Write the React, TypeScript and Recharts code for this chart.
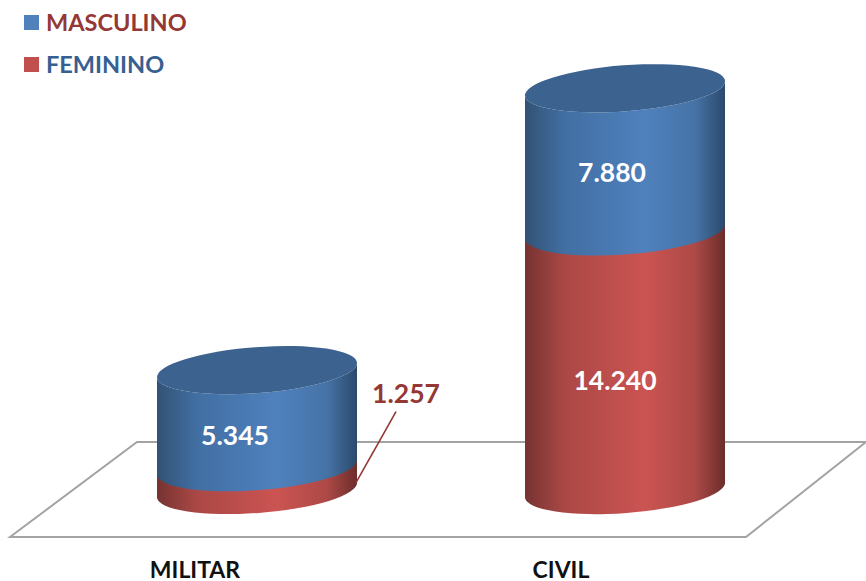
import { BarChart, Bar, XAxis, YAxis, Legend, LabelList, Customized } from 'recharts';

const categories = ['MILITAR', 'CIVIL'];
const masculino = [5345, 7880];
const feminino = [1257, 14240];

const chartData = categories.map((name, i) => ({ name, masculino: masculino[i], feminino: feminino[i] }));

const FONT = 'Lato, "Open Sans", sans-serif';
const TILT = 7.5;
const RY = 23;

// label offsets from the middle of each segment
const MASC_OFFSETS = [{ dx: -22, dy: 16 }, { dx: -13, dy: 12 }];
const FEM_OFFSETS = [{ dx: 149, dy: -86 }, { dx: -10, dy: 19 }];

function formatValue(v: number): string {
  return String(v).replace(/\B(?=(\d{3})+$)/g, '.');
}

function Cylinder(props: any) {
  const { x, y, width, height, gradient, cap } = props;
  const rx = Math.hypot(width / 2, TILT);
  const rot = (-Math.atan2(TILT, width / 2) * 180) / Math.PI;
  const arc = (sweep: number, ex: number, ey: number) => `A${rx} ${RY} ${rot} 0 ${sweep} ${ex} ${ey}`;
  const left = x;
  const right = x + width;
  const bottom = y + height;
  const body = [
    `M${left} ${y + TILT}`,
    arc(cap ? 0 : 1, right, y - TILT),
    `L${right} ${bottom - TILT}`,
    arc(1, left, bottom + TILT),
    'Z',
  ].join(' ');
  return (
    <g>
      <path d={body} fill={`url(#${gradient})`} />
      {cap && (
        <path
          d={`M${left} ${y + TILT} ${arc(1, right, y - TILT)} ${arc(1, left, y + TILT)} Z`}
          fill="#3c628f"
        />
      )}
    </g>
  );
}

function ValueLabel(props: any) {
  const { x, y, width, height, value, index, offsets, leader } = props;
  const { dx, dy } = offsets[index];
  const cx = x + width / 2 + dx;
  const cy = y + height / 2 + dy;
  const outside = leader && index === 0;
  return (
    <g>
      {outside && (
        <line x1={x + width - 1} y1={y + height / 2 + 4} x2={x + width + 39} y2={cy + 19} stroke="#953735" strokeWidth={1.6} />
      )}
      <text
        x={cx}
        y={cy}
        textAnchor="middle"
        dominantBaseline="central"
        fontFamily={FONT}
        fontWeight={700}
        fontSize={26.5}
        fill={outside ? '#953735' : '#ffffff'}
      >
        {formatValue(value)}
      </text>
    </g>
  );
}

function CategoryTick(props: any) {
  const { x, y, payload, index } = props;
  const shift = index === 0 ? -62 : -64;
  return (
    <text x={x + shift} y={y + 80} textAnchor="middle" fontFamily={FONT} fontWeight={700} fontSize={23} fill="#111111">
      {payload.value}
    </text>
  );
}

function Floor() {
  return <polygon points="10,537 137,442 866,442 746,537" fill="#ffffff" stroke="#a3a3a3" strokeWidth={2} />;
}

function LegendBox() {
  const rows = [
    { label: 'MASCULINO', box: '#4f81bd', text: '#953735' },
    { label: 'FEMININO', box: '#c0504d', text: '#376092' },
  ];
  return (
    <div style={{ fontFamily: FONT, fontWeight: 700, fontSize: 23.5 }}>
      {rows.map((r) => (
        <div key={r.label} style={{ display: 'flex', alignItems: 'center', height: 42, color: r.text }}>
          <span style={{ width: 15, height: 15, background: r.box, marginLeft: 24, marginRight: 7 }} />
          {r.label}
        </div>
      ))}
    </div>
  );
}

export default function App() {
  return (
    <div style={{ width: 866, height: 581, background: '#fff' }}>
      <style>{'body{margin:0}'}</style>
      <BarChart
        width={866}
        height={581}
        data={chartData}
        margin={{ top: 36, right: 57, bottom: 0, left: 73 }}
        barSize={200}
      >
        <defs>
          <linearGradient id="blueBody" x1="0" y1="0" x2="1" y2="0">
            <stop offset="0" stopColor="#325274" />
            <stop offset="0.2" stopColor="#426fa3" />
            <stop offset="0.6" stopColor="#4f81bd" />
            <stop offset="0.85" stopColor="#4673a6" />
            <stop offset="1" stopColor="#2b4a6c" />
          </linearGradient>
          <linearGradient id="redBody" x1="0" y1="0" x2="1" y2="0">
            <stop offset="0" stopColor="#763331" />
            <stop offset="0.2" stopColor="#ab4846" />
            <stop offset="0.6" stopColor="#cb5452" />
            <stop offset="0.85" stopColor="#ad4946" />
            <stop offset="1" stopColor="#6c2d2b" />
          </linearGradient>
        </defs>
        <Customized component={Floor} />
        <XAxis dataKey="name" axisLine={false} tickLine={false} height={91} tick={CategoryTick} interval={0} />
        <YAxis hide domain={[0, 25000]} />
        <Legend
          layout="horizontal"
          align="center"
          verticalAlign="middle"
          content={LegendBox}
          wrapperStyle={{ top: 1, left: 0, width: 260 }}
        />
        <Bar
          dataKey="feminino"
          name="FEMININO"
          stackId="a"
          fill="#c0504d"
          isAnimationActive={false}
          shape={(p: any) => <Cylinder {...p} gradient="redBody" />}
        >
          <LabelList
            dataKey="feminino"
            content={(p: any) => <ValueLabel {...p} offsets={FEM_OFFSETS} leader />}
          />
        </Bar>
        <Bar
          dataKey="masculino"
          name="MASCULINO"
          stackId="a"
          fill="#4f81bd"
          isAnimationActive={false}
          shape={(p: any) => <Cylinder {...p} gradient="blueBody" cap />}
        >
          <LabelList
            dataKey="masculino"
            content={(p: any) => <ValueLabel {...p} offsets={MASC_OFFSETS} />}
          />
        </Bar>
      </BarChart>
    </div>
  );
}
